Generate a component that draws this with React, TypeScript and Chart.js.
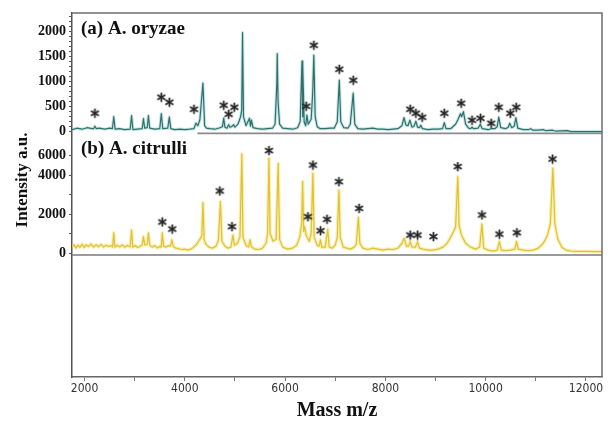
import React, { useEffect, useRef } from 'react';
import { Chart, registerables } from 'chart.js';

Chart.register(...registerables);

// ---------- DATA ----------
// (a) A. oryzae spectrum: mass (m/z) and intensity
const massA = [
  1750, 1850, 1950, 2050, 2150, 2180, 2207, 2235, 2300, 2400, 2500, 2555, 2583, 2610,
  2700, 2800, 2910, 2938, 2965, 3050, 3150, 3175, 3200, 3250, 3274, 3300,
  3400, 3500, 3531, 3560, 3660, 3691, 3720, 3800, 3900, 4000, 4100, 4180, 4222, 4260, 4300, 4361, 4395, 4430,
  4500, 4600, 4700, 4750, 4776, 4800, 4840, 4874, 4900, 4930, 4973, 5000,
  5060, 5112, 5135, 5151, 5170, 5220, 5290, 5310, 5329, 5360,
  5450, 5550, 5650, 5750, 5800, 5835, 5843, 5860, 5890, 5950,
  6050, 6150, 6250, 6300, 6337, 6346, 6356, 6380, 6410, 6435, 6460, 6520, 6550, 6573, 6600, 6640, 6700,
  6800, 6900, 6980, 7040, 7081, 7110, 7170, 7250, 7300, 7358, 7390, 7450,
  7550, 7650, 7750, 7850, 7950, 8050, 8150, 8250,
  8330, 8371, 8410, 8450, 8489, 8530, 8570, 8608, 8640, 8680, 8707, 8740,
  8850, 8950, 9050, 9140, 9175, 9210,
  9300, 9400, 9450, 9497, 9520, 9556, 9600, 9660, 9700, 9728, 9760, 9850, 9892, 9930,
  10050, 10109, 10180, 10230, 10261, 10300, 10400, 10450, 10479, 10520, 10570, 10603, 10640,
  10750, 10850, 10900, 10940, 11050, 11157, 11200, 11334, 11400, 11630, 11700, 12000, 12320,
];
const intA = [
  40, 70, 50, 80, 60, 60, 110, 60, 70, 50, 70, 60, 300, 50,
  60, 40, 50, 320, 40, 50, 60, 260, 70, 80, 320, 70,
  50, 60, 360, 60, 70, 290, 60, 40, 50, 40, 50, 60, 170, 120, 240, 970, 120, 70,
  60, 50, 80, 100, 270, 90, 70, 140, 90, 100, 140, 90,
  150, 300, 430, 1980, 300, 120, 270, 110, 230, 80,
  60, 50, 60, 70, 150, 960, 1560, 600, 150, 70,
  60, 50, 80, 200, 1410, 300, 1330, 200, 120, 330, 150, 250, 770, 1530, 300, 100, 60,
  60, 70, 70, 200, 1030, 200, 80, 70, 150, 770, 150, 60,
  50, 60, 70, 50, 50, 40, 50, 60,
  120, 280, 130, 120, 230, 90, 110, 210, 90, 80, 130, 60,
  40, 50, 50, 60, 180, 60,
  60, 150, 250, 360, 300, 400, 150, 70, 60, 90, 60, 70, 150, 60,
  40, 60, 60, 100, 290, 80, 60, 90, 170, 80, 110, 280, 70,
  40, 40, 60, 30, 30, 40, 20, 30, 10, 20, 0, 0, 0,
];

// (b) A. citrulli spectrum: mass (m/z) and intensity
const massB = [
  1750, 1790, 1830, 1870, 1910, 1950, 1990, 2030, 2080, 2130, 2180, 2230, 2280, 2330, 2380, 2430, 2480, 2530,
  2560, 2583, 2605, 2650, 2700, 2750, 2800, 2850, 2910, 2938, 2962, 3010, 3060, 3110, 3150, 3175, 3200,
  3250, 3274, 3300, 3350, 3400, 3450, 3500, 3530, 3551, 3575, 3620, 3680, 3715, 3742, 3770,
  3820, 3880, 3940, 4000, 4060, 4120, 4180, 4250, 4310, 4340, 4361, 4385, 4420, 4480, 4550, 4620, 4670,
  4710, 4740, 4800, 4860, 4920, 4959, 4990, 5050, 5100, 5137, 5160, 5220, 5270, 5303, 5330, 5400, 5480,
  5550, 5620, 5650, 5678, 5700, 5760, 5820, 5862, 5890, 5950, 6050, 6150, 6230, 6290, 6330, 6350, 6370,
  6390, 6420, 6480, 6520, 6554, 6580, 6640, 6680, 6706, 6730, 6800, 6850, 6880, 6940, 7000, 7040, 7073,
  7100, 7160, 7230, 7300, 7380, 7420, 7462, 7490, 7550, 7650, 7750, 7850, 7950, 8050, 8150, 8250, 8330,
  8377, 8420, 8460, 8495, 8530, 8600, 8642, 8680, 8750, 8850, 8950, 9050, 9150, 9230, 9300, 9360, 9400,
  9444, 9470, 9520, 9600, 9700, 9800, 9880, 9926, 9960, 10050, 10150, 10230, 10273, 10310, 10400, 10500,
  10580, 10617, 10650, 10750, 10850, 10950, 11050, 11150, 11230, 11290, 11340, 11380, 11440, 11520, 11600,
  11700, 11850, 12000, 12200, 12320,
];
const intB = [
  300, 420, 260, 400, 300, 450, 280, 420, 330, 460, 300, 420, 320, 440, 300, 400, 330, 380,
  300, 1030, 300, 400, 310, 420, 300, 380, 320, 1180, 300, 380, 280, 350, 400, 840, 420,
  450, 1030, 400, 300, 380, 260, 340, 300, 1030, 350, 300, 380, 350, 670, 330,
  250, 220, 180, 200, 150, 200, 300, 500, 750, 900, 2600, 700, 450, 300, 250, 350, 650,
  2630, 600, 350, 250, 300, 920, 400, 500, 840, 5080, 800, 400, 300, 670, 300, 200, 180,
  250, 500, 1000, 4860, 1000, 600, 700, 4600, 700, 300, 200, 250, 400, 800, 1500, 3660, 1100,
  1350, 900, 600, 1000, 4090, 800, 400, 350, 670, 300, 300, 1220, 300, 250, 400, 800, 3230,
  800, 300, 250, 200, 300, 450, 1830, 500, 250, 180, 250, 200, 150, 200, 180, 250, 500,
  750, 350, 350, 580, 300, 300, 580, 250, 200, 150, 150, 200, 300, 500, 800, 1100, 1350,
  3910, 1400, 900, 500, 300, 200, 300, 1490, 250, 150, 100, 150, 580, 150, 120, 150,
  200, 580, 200, 150, 120, 150, 250, 500, 900, 1500, 4350, 1500, 700, 300, 150,
  100, 80, 80, 70, 70,
];

// Gray baselines under each spectrum
const baseMassA = [4250, 12320];
const baseIntA = [-35, -35];
const baseMassB = [1750, 12320];
const baseIntB = [-100, -100];

// Peak markers (*)
const starMassA = [2207, 3531, 3691, 4183, 4776, 4874, 4987, 6421, 6573, 7081, 7358, 8495, 8608, 8733, 9175, 9511, 9728, 9898, 10109, 10261, 10491, 10609];
const starIntA = [370, 690, 590, 450, 530, 350, 490, 510, 1730, 1250, 1030, 450, 370, 290, 370, 570, 230, 270, 170, 490, 370, 490];
const starMassB = [3551, 3749, 4697, 4940, 5678, 6455, 6554, 6706, 6836, 7073, 7476, 8495, 8642, 8958, 9444, 9926, 10273, 10623, 11334];
const starIntB = [1590, 1230, 3180, 1350, 5250, 1860, 4510, 1140, 1730, 3660, 2290, 920, 920, 840, 4430, 1950, 970, 1040, 4820];

// Axis ticks
const xTicks = [2000, 3000, 4000, 5000, 6000, 7000, 8000, 9000, 10000, 11000, 12000];
const xLabels = ['2000', '', '4000', '', '6000', '', '8000', '', '10000', '', '12000'];
const yTicksA = [0, 100, 200, 300, 400, 500, 600, 700, 800, 900, 1000, 1100, 1200, 1300, 1400, 1500, 1600, 1700, 1800, 1900, 2000, 2100, 2200, 2300];
const yLabelsA = ['0', '', '', '', '', '500', '', '', '', '', '1000', '', '', '', '', '1500', '', '', '', '', '2000', '', '', ''];
const yTicksB = [0, 1000, 2000, 3000, 4000, 5000];
const yLabelsB = ['0', '', '2000', '', '4000', '6000'];

const panelLabels = ['(a) A. oryzae', '(b) A. citrulli'];
const xTitle = 'Mass m/z';
const yTitle = 'Intensity a.u.';

// ---------- LAYOUT ----------
const W = 608;
const H = 425;
const Y_MAX = 364; // combined vertical axis, one unit per pixel of plot height
const A_BASE = 245.3;
const A_K = 0.05;
const B_BASE = 124;
const B_K = 0.0195;
const SERIF = "'Liberation Serif', 'Times New Roman', serif";

const toA = (v: number) => A_BASE + v * A_K;
const toB = (v: number) => B_BASE + v * B_K;

function makeStar(): HTMLCanvasElement {
  const c = document.createElement('canvas');
  c.width = 11;
  c.height = 11;
  const g = c.getContext('2d')!;
  g.strokeStyle = '#262626';
  g.lineWidth = 1.8;
  g.lineCap = 'round';
  for (let k = 0; k < 3; k++) {
    const a = Math.PI / 2 + (k * Math.PI) / 3;
    g.beginPath();
    g.moveTo(5.5 + 3.9 * Math.cos(a), 5.5 + 3.9 * Math.sin(a));
    g.lineTo(5.5 - 3.9 * Math.cos(a), 5.5 - 3.9 * Math.sin(a));
    g.stroke();
  }
  return c;
}

const textPlugin = {
  id: 'textPlugin',
  afterDraw(chart: any) {
    const { ctx, chartArea } = chart;
    ctx.save();
    // frame top & right
    ctx.strokeStyle = '#6e6e6e';
    ctx.lineWidth = 1.5;
    ctx.beginPath();
    ctx.moveTo(chartArea.left, chartArea.top);
    ctx.lineTo(chartArea.right, chartArea.top);
    ctx.lineTo(chartArea.right, chartArea.bottom);
    ctx.stroke();
    // panel labels
    ctx.fillStyle = '#111';
    ctx.font = `bold 19px ${SERIF}`;
    ctx.textAlign = 'left';
    ctx.textBaseline = 'alphabetic';
    ctx.fillText(panelLabels[0], 81, 34);
    ctx.fillText(panelLabels[1], 81, 154);
    // y title
    ctx.font = `bold 17px ${SERIF}`;
    ctx.translate(23, 180);
    ctx.rotate(-Math.PI / 2);
    ctx.textAlign = 'center';
    ctx.textBaseline = 'middle';
    ctx.fillText(yTitle, 0, 0);
    ctx.restore();
  },
};

export default function App() {
  const ref = useRef<HTMLCanvasElement | null>(null);

  useEffect(() => {
    document.body.style.margin = '0';
    const canvas = ref.current;
    if (!canvas) return;
    const star = makeStar();

    const specA = massA.map((m, i) => ({ x: m, y: toA(intA[i]) }));
    const specB = massB.map((m, i) => ({ x: m, y: toB(intB[i]) }));
    const lineA = baseMassA.map((m, i) => ({ x: m, y: toA(baseIntA[i]) }));
    const lineB = baseMassB.map((m, i) => ({ x: m, y: toB(baseIntB[i]) }));
    const starsA = starMassA.map((m, i) => ({ x: m, y: toA(starIntA[i]) }));
    const starsB = starMassB.map((m, i) => ({ x: m, y: toB(starIntB[i]) }));

    const yVals = [...yTicksB.map(toB), ...yTicksA.map(toA)];
    const yLabs = [...yLabelsB, ...yLabelsA];

    const lineDs = (data: any[], color: string, width: number, order: number) => ({
      type: 'scatter' as const,
      data,
      showLine: true,
      borderColor: color,
      backgroundColor: color,
      borderWidth: width,
      pointRadius: 0,
      tension: 0,
      borderJoinStyle: 'round' as const,
      order,
    });

    const chart = new Chart(canvas, {
      type: 'scatter',
      data: {
        datasets: [
          { data: starsA, pointStyle: star, pointRadius: 5, showLine: false, order: 0 } as any,
          { data: starsB, pointStyle: star, pointRadius: 5, showLine: false, order: 0 } as any,
          lineDs(specA, '#2f6f6c', 1.2, 1),
          lineDs(specB, '#e0c234', 1.2, 1),
          lineDs(specA, 'rgba(130,200,198,0.45)', 3.2, 2),
          lineDs(specB, 'rgba(243,226,120,0.55)', 3.6, 2),
          lineDs(lineA, '#8a8a8a', 1.8, 3),
          lineDs(lineB, '#7a7a7a', 1.5, 3),
        ],
      },
      options: {
        responsive: false,
        animation: false,
        devicePixelRatio: 1,
        layout: { padding: { top: 13, right: 1, left: 0, bottom: 0 } },
        plugins: { legend: { display: false }, tooltip: { enabled: false } },
        scales: {
          x: {
            type: 'linear',
            min: 1750,
            max: 12320,
            afterBuildTicks: (s: any) => {
              s.ticks = xTicks.map((v) => ({ value: v }));
            },
            afterFit: (s: any) => {
              s.height = 48;
            },
            ticks: {
              autoSkip: false,
              maxRotation: 0,
              padding: 1,
              color: '#333',
              font: { family: "'Liberation Sans Narrow', 'DejaVu Sans Condensed', 'Liberation Sans', Arial, sans-serif", size: 12 },
              callback: (_v: any, i: number) => xLabels[i],
            },
            grid: { drawOnChartArea: false, drawTicks: true, tickLength: 4, color: '#777' },
            border: { display: true, color: '#666', width: 1.5 },
            title: {
              display: true,
              text: xTitle,
              color: '#111',
              font: { family: SERIF, size: 20, weight: 'bold' },
              padding: { top: 2, bottom: 2 },
            },
          },
          y: {
            type: 'linear',
            min: 0,
            max: Y_MAX,
            afterBuildTicks: (s: any) => {
              s.ticks = yVals.map((v) => ({ value: v }));
            },
            afterFit: (s: any) => {
              s.width = 72;
            },
            ticks: {
              autoSkip: false,
              padding: 3,
              color: '#111',
              font: { family: SERIF, size: 14, weight: 'bold' },
              callback: (_v: any, i: number) => yLabs[i],
            },
            grid: { drawOnChartArea: false, drawTicks: true, tickLength: 3, color: '#555' },
            border: { display: true, color: '#555', width: 1.5 },
          },
        },
      } as any,
      plugins: [textPlugin],
    });
    return () => chart.destroy();
  }, []);

  return (
    <div style={{ position: 'fixed', left: 0, top: 0, width: W, height: H, background: '#fff' }}>
      <canvas ref={ref} width={W} height={H} style={{ display: 'block' }} />
    </div>
  );
}
